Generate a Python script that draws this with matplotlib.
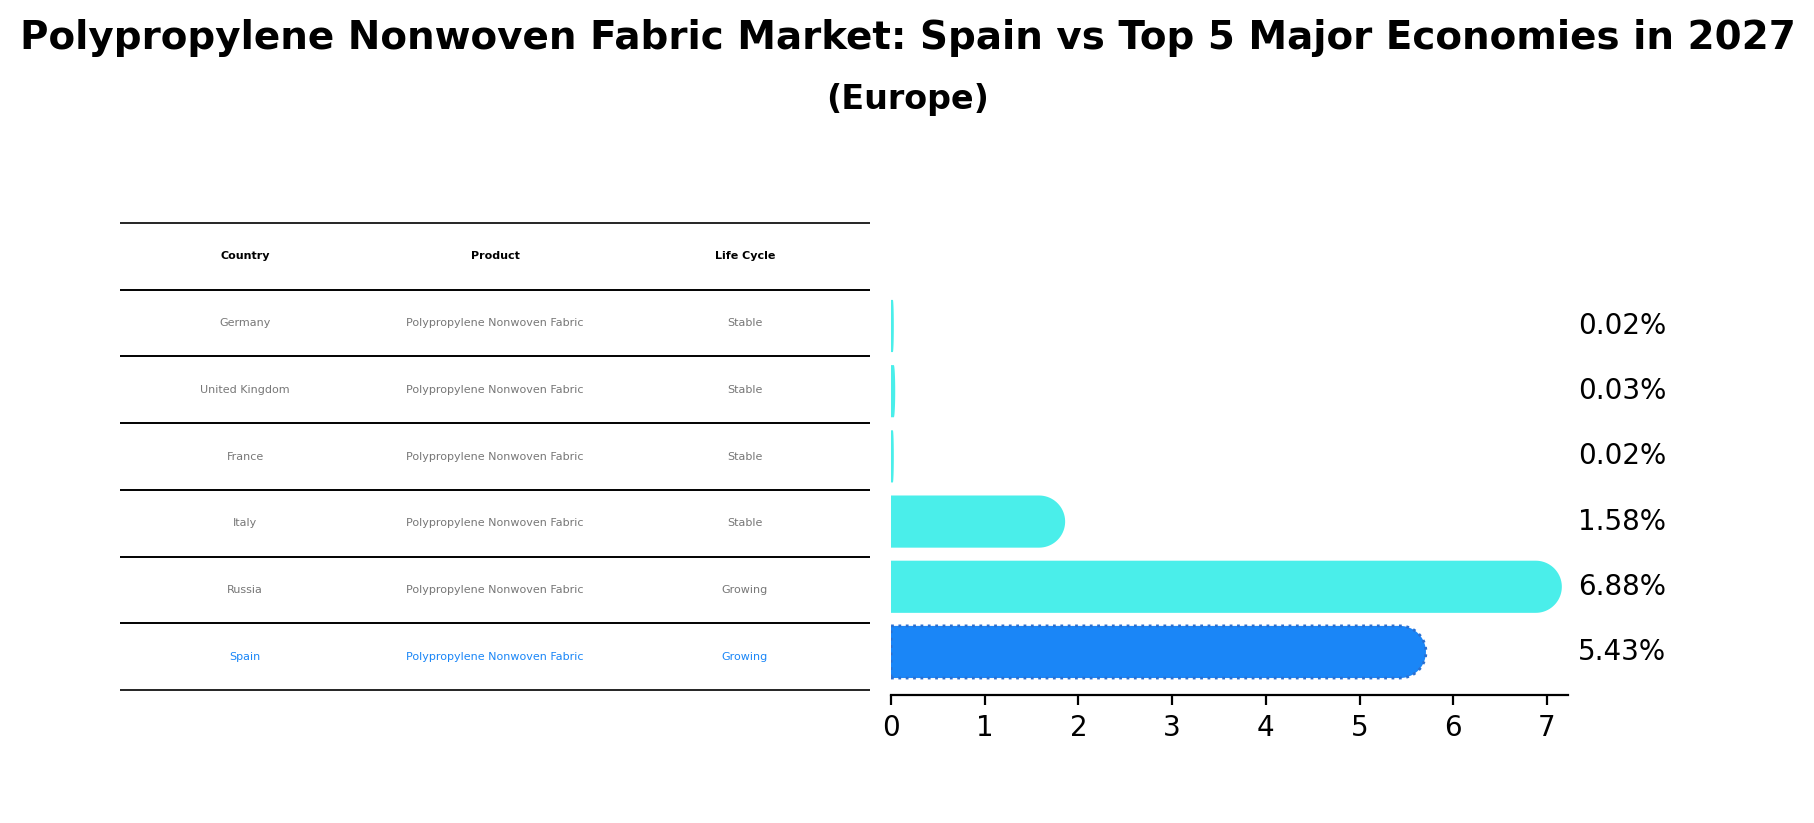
import numpy as np
import matplotlib
matplotlib.use("Agg")
import matplotlib.pyplot as plt
from matplotlib.path import Path
from matplotlib.patches import PathPatch

countries = ["Germany", "United Kingdom", "France", "Italy", "Russia", "Spain"]
product = "Polypropylene Nonwoven Fabric"
life_cycle = ["Stable", "Stable", "Stable", "Stable", "Growing", "Growing"]
share = [0.02, 0.03, 0.02, 1.58, 6.88, 5.43]
focus = "Spain"

cyan = "#4aeeea"
blue = "#1a86f7"

W, H, DPI = 1815, 823, 200
fig = plt.figure(figsize=(W / DPI, H / DPI), dpi=DPI)

fig.text(0.5, 1 - 38 / H, "Polypropylene Nonwoven Fabric Market: Spain vs Top 5 Major Economies in 2027",
         ha="center", va="center", fontsize=14, fontweight="bold")
fig.text(0.5, 1 - 100 / H, "(Europe)", ha="center", va="center", fontsize=12, fontweight="bold")

# table on the left
ax_t = fig.add_axes([120 / W, 1 - 690 / H, 750 / W, 467 / H])
ax_t.axis("off")
cells = [[c, product, lc] for c, lc in zip(countries, life_cycle)]
tab = ax_t.table(cellText=cells, colLabels=["Country", "Product", "Life Cycle"],
                 cellLoc="center", bbox=[0, 0, 1, 1], edges="horizontal")
tab.auto_set_font_size(False)
for (r, c), cell in tab.get_celld().items():
    cell.set_linewidth(0.6)
    txt = cell.get_text()
    txt.set_fontsize(4)
    if r == 0:
        txt.set_fontweight("bold")
        txt.set_color("black")
    elif countries[r - 1] == focus:
        txt.set_color(blue)
    else:
        txt.set_color("#777777")

# rounded bars on the right
ax_l, ax_b, ax_w, ax_h = 891 / W, 1 - 695 / H, 677 / W, 414 / H
ax = fig.add_axes([ax_l, ax_b, ax_w, ax_h])
n = len(countries)
ypos = np.arange(n)[::-1]
xmax = max(share) * 1.05
ax.set_xlim(0, xmax)
ax.set_ylim(-0.66, n - 1 + 0.69)

bar_h = 0.8
px_x = ax_w * W / xmax
px_y = ax_h * H / (n - 1 + 0.69 + 0.66)
t = np.linspace(-np.pi / 2, np.pi / 2, 40)
for v, y, c in zip(share, ypos, countries):
    ry = bar_h / 2
    rx = min(ry * px_y / px_x, v / 2)
    verts = [(0, y - ry), (v, y - ry)]
    verts += list(zip(v + rx * np.cos(t), y + ry * np.sin(t)))
    verts += [(v, y + ry), (0, y + ry), (0, y - ry)]
    codes = [Path.MOVETO] + [Path.LINETO] * (len(verts) - 2) + [Path.CLOSEPOLY]
    if c == focus:
        patch = PathPatch(Path(verts, codes), facecolor=blue, edgecolor="#2a6fd0",
                          linestyle=":", linewidth=1.0)
    else:
        patch = PathPatch(Path(verts, codes), facecolor=cyan, edgecolor="none")
    ax.add_patch(patch)
    ax.text(max(share) * 1.065, y, f"{v:.2f}%", va="center", ha="left", fontsize=10)

for s in ["top", "right", "left"]:
    ax.spines[s].set_visible(False)
ax.set_yticks([])
ax.set_xticks(range(0, 8))
ax.tick_params(axis="x", labelsize=10)

fig.savefig("out.png", dpi=DPI)
